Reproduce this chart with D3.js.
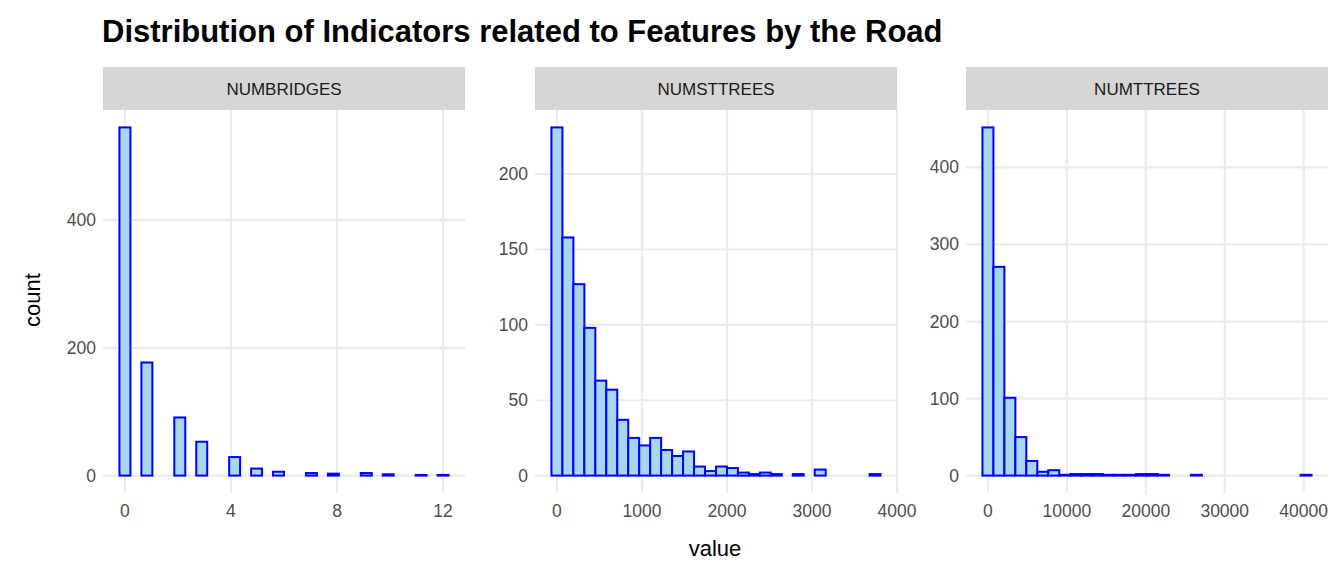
<!DOCTYPE html>
<html><head><meta charset="utf-8">
<script src="https://cdn.jsdelivr.net/npm/d3@7"></script>
<style>body{margin:0;background:#fff}text{font-family:"Liberation Sans",Arial,sans-serif}</style>
</head><body><svg id="c" width="1344" height="576"></svg>
<script>
const panelNames = ["NUMBRIDGES","NUMSTTREES","NUMTTREES"];
// bin centers span [firstCenter, lastCenter], 30 bins each
const binRanges = [[0,12],[0,3741],[0,40300]];
const countsBridges = [545,0,177,0,0,91,0,53,0,0,29,0,11,0,6,0,0,4,0,3,0,0,4,0,2,0,0,1,0,1];
const countsSTTrees = [231,158,127,98,63,57,37,25,20,25,17,13,16,6,3,6,5,2,1,2,1,0,1,0,4,0,0,0,0,1];
const countsTTrees = [452,271,101,50,19,5,7,1,2,2,2,1,1,1,2,2,1,0,0,1,0,0,0,0,0,0,0,0,0,1];
const xTicks = [[0,4,8,12],[0,1000,2000,3000,4000],[0,10000,20000,30000,40000]];
const yTicks = [[0,200,400],[0,50,100,150,200],[0,100,200,300,400]];
const allCounts = [countsBridges,countsSTTrees,countsTTrees];

const svg = d3.select("#c");
svg.append("text").attr("x",102).attr("y",42).attr("font-size",31).attr("font-weight","bold").text("Distribution of Indicators related to Features by the Road");
const panels = [[103,465],[535,897],[966,1328]];
const pTop = 110, pBottom = 493;
panels.forEach((p,i)=>{
  const counts = allCounts[i];
  const [c0,c1] = binRanges[i];
  const w = (c1-c0)/29;
  const lo = c0-w/2, hi = c1+w/2, pad=(hi-lo)*0.05;
  const x = d3.scaleLinear().domain([lo-pad,hi+pad]).range(p);
  const ext = d3.max(counts);
  const y = d3.scaleLinear().domain([-ext*0.05, ext*1.05]).range([pBottom, pTop]);
  const g = svg.append("g");
  g.append("rect").attr("x",p[0]).attr("y",67).attr("width",p[1]-p[0]).attr("height",43).attr("fill","#d6d6d6");
  g.append("text").attr("x",(p[0]+p[1])/2).attr("y",95).attr("text-anchor","middle").attr("font-size",17).attr("fill","#1a1a1a").text(panelNames[i]);
  xTicks[i].forEach(t=>{
    g.append("line").attr("x1",x(t)).attr("x2",x(t)).attr("y1",pTop).attr("y2",pBottom).attr("stroke","#ebebeb").attr("stroke-width",2.2);
    g.append("text").attr("x",x(t)).attr("y",pBottom+24).attr("text-anchor","middle").attr("font-size",17.5).attr("fill","#4d4d4d").text(t);
  });
  yTicks[i].forEach(t=>{
    g.append("line").attr("x1",p[0]).attr("x2",p[1]).attr("y1",y(t)).attr("y2",y(t)).attr("stroke","#ebebeb").attr("stroke-width",2.2);
    g.append("text").attr("x",p[0]-7).attr("y",y(t)+6).attr("text-anchor","end").attr("font-size",17.5).attr("fill","#4d4d4d").text(t);
  });
  g.selectAll("rect.bar").data(counts).enter().append("rect").attr("class","bar")
    .attr("x",(d,k)=>x(c0+k*w-w/2)).attr("width",(d,k)=>x(c0+k*w+w/2)-x(c0+k*w-w/2))
    .attr("y",d=>y(d)).attr("height",d=>y(0)-y(d))
    .attr("fill","#a6d7ec").attr("stroke","#0000ff").attr("stroke-width",2);
});
svg.append("text").attr("x",715).attr("y",556).attr("text-anchor","middle").attr("font-size",22).attr("fill","#000").text("value");
svg.append("text").attr("transform","translate(40,300) rotate(-90)").attr("text-anchor","middle").attr("font-size",22).text("count");
</script></body></html>
